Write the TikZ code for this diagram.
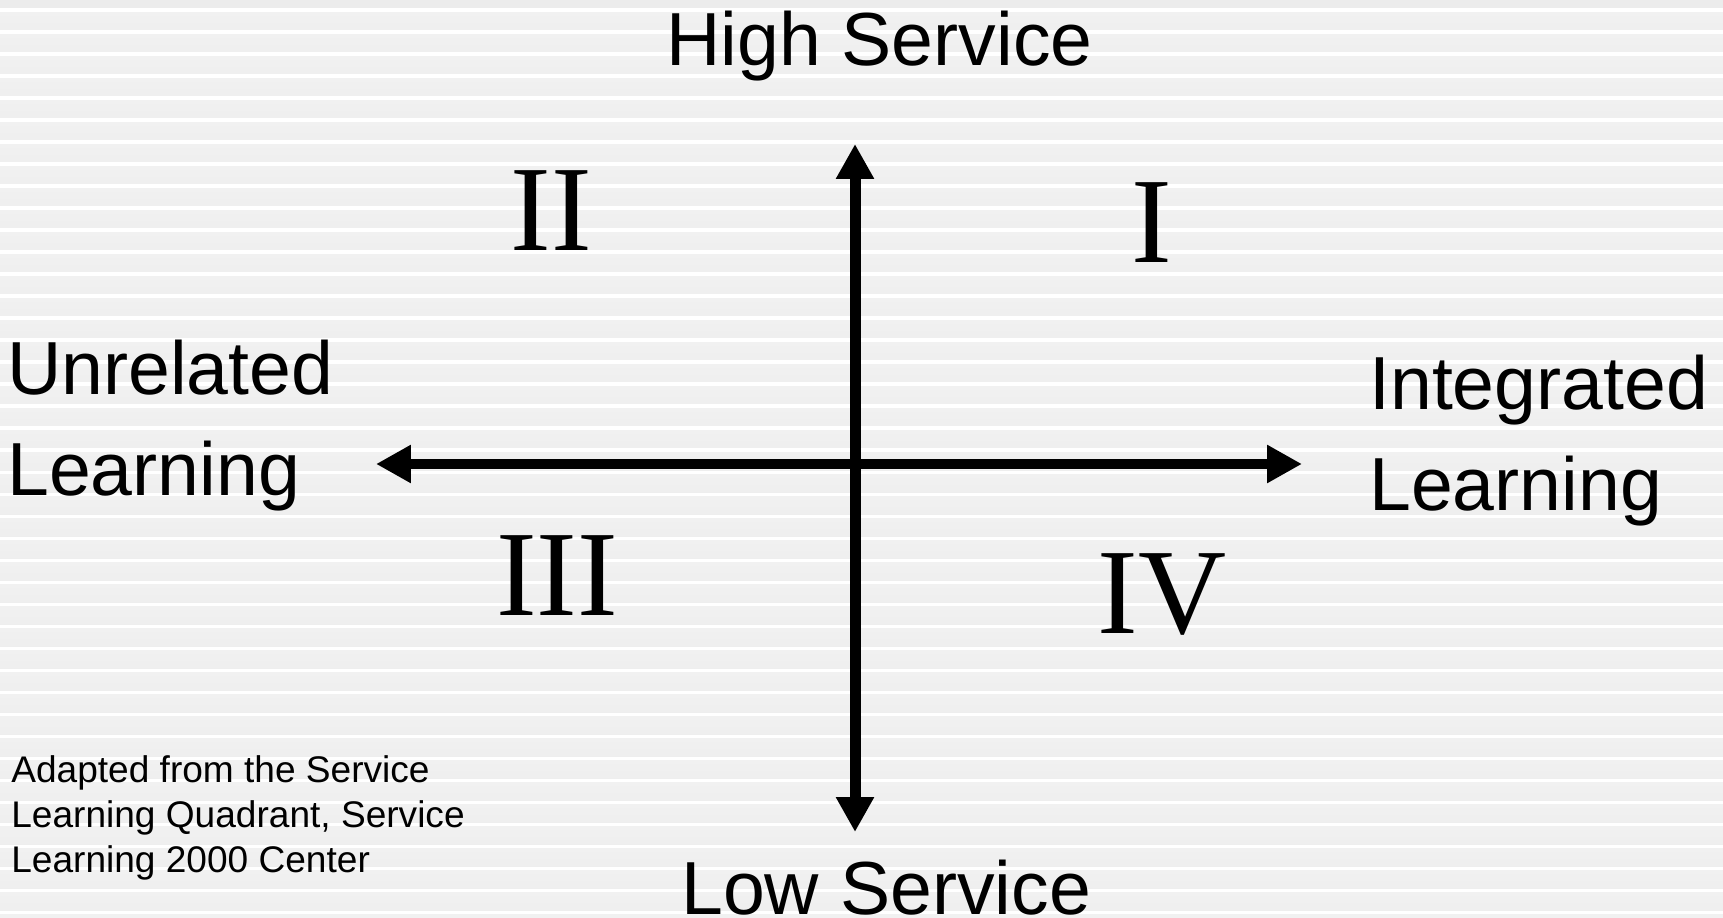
\documentclass[tikz,border=0pt]{standalone}
\usepackage{fontspec}
\setmainfont{Liberation Sans}
\newfontfamily\numfont{Liberation Serif}
\usepackage{tikz}
\usetikzlibrary{arrows.meta}

\tikzset{
    axis/.style={line width=0.22cm, {Triangle[length=0.7cm, width=0.72cm]}-{Triangle[length=0.7cm, width=0.72cm]}},
    biglabel/.style={inner sep=0, anchor=base west, align=left, font=\fontsize{42.8pt}{57pt}\selectfont},
    quadnum/.style={inner sep=0, anchor=base, font=\numfont\fontsize{69.4pt}{70pt}\selectfont},
    srcnote/.style={inner sep=0, anchor=base west, align=left, font=\fontsize{21.1pt}{25.6pt}\selectfont}
}

\begin{document}
\begin{tikzpicture}[x=0.02cm, y=-0.02cm]
    \useasboundingbox (0,0) rectangle (1723,918);
    % striped background
    \fill[gray!15] (0,0) rectangle (1723,918);
    \foreach \i in {0,...,41} {
        \fill[white] (0,8.5+22*\i) rectangle (1723,12.5+22*\i);
        \shade[top color=gray!11, middle color=gray!26, bottom color=gray!13]
            (0,12.5+22*\i) rectangle (1723,30.5+22*\i);
    }

    % axes
    \coordinate (top) at (855,144);
    \coordinate (bottom) at (855,832);
    \coordinate (left) at (376,464);
    \coordinate (right) at (1302,464);
    \draw[axis] (bottom) -- (top);
    \draw[axis] (left) -- (right);

    % axis labels (base = last line)
    \node[biglabel] (high) at (666,66) {High Service};
    \node[biglabel] (low) at (681,914) {Low Service};
    \node[biglabel] (unrelated) at (7,495) {Unrelated\\Learning};
    \node[biglabel] (integrated) at (1369,510) {Integrated\\Learning};

    % quadrants
    \node[quadnum] (q1) at (1152,263) {I};
    \node[quadnum] (q2) at (551,251) {II};
    \node[quadnum] (q3) at (557,615) {III};
    \node[quadnum] (q4) at (1162,633) {IV};

    \node[srcnote] (source) at (11,872) {Adapted from the Service\\Learning Quadrant, Service\\Learning 2000 Center};
\end{tikzpicture}
\end{document}
